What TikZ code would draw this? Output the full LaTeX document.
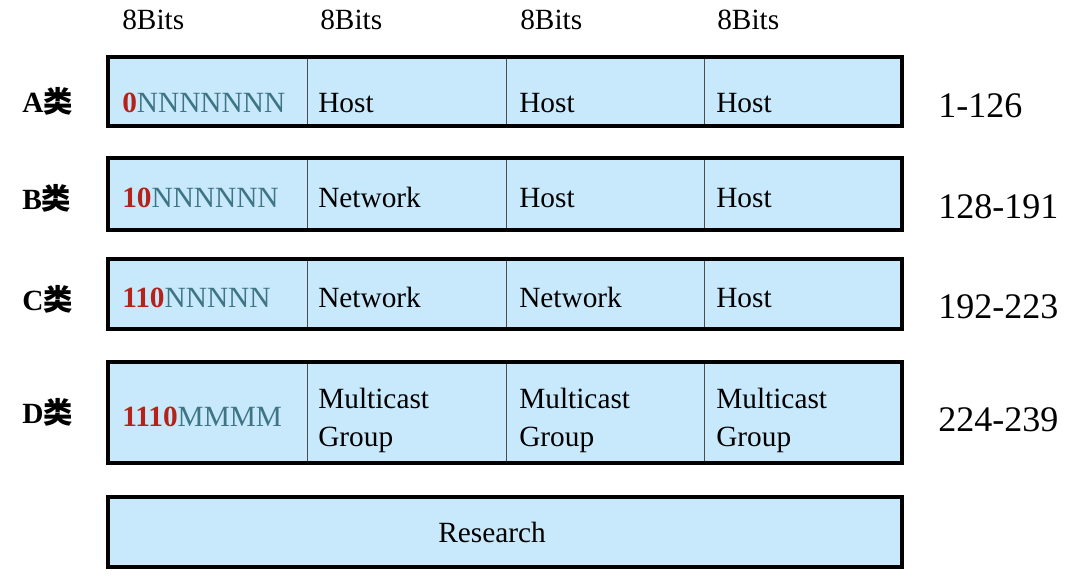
\documentclass[tikz,border=0pt]{standalone}
\usepackage{fontspec}
\setmainfont{Liberation Serif}
\newfontfamily\cjkfont{Noto Sans CJK SC}
\usetikzlibrary{fit}
\definecolor{cellfill}{HTML}{C8E8FB}
\definecolor{prefixbit}{HTML}{B5221A}
\definecolor{netbit}{HTML}{3D7585}
\newcommand\classbits[2]{\textcolor{prefixbit}{\bfseries #1}\textcolor{netbit}{#2}}

\begin{document}
\begin{tikzpicture}[
  x=0.75pt, y=-0.75pt,
  cell/.style={draw=black!70, line width=0.75pt, fill=cellfill, inner sep=0pt, outer sep=0pt},
  frame/.style={draw=black, line width=2.4pt},
  field/.style={anchor=base west, inner sep=0pt, align=left, font=\fontsize{22}{28.5}\selectfont},
  classlabel/.style={field, font=\fontsize{22}{25.5}\selectfont\bfseries},
  iprange/.style={anchor=base west, inner sep=0pt, font=\fontsize{27}{30}\selectfont}
]
\useasboundingbox (0,0) rectangle (1066,576);

\foreach \r/\top/\bot in {a/57/126, b/158/230, c/259/329, d/362/463} {
  \foreach \c/\xl/\xr in {1/108/307, 2/307/506, 3/506/704, 4/704/902}
    \node[cell, fit={(\xl,\top) (\xr,\bot)}] (\r\c) {};
  \draw[frame] (\r1.north west) rectangle (\r4.south east);
}
\node[cell, fit={(108,497) (902,567)}] (research) {};
\draw[frame] (research.north west) rectangle (research.south east);
\node[field, anchor=base] (researcht) at (492,542) {Research};

\node[field] (bits1) at (122,29) {8Bits};
\node[field] (bits2) at (320,29) {8Bits};
\node[field] (bits3) at (520,29) {8Bits};
\node[field] (bits4) at (717,29) {8Bits};

\node[classlabel] (classa) at (22,112) {A{\cjkfont 类}};
\node[classlabel] (classb) at (22,209) {B{\cjkfont 类}};
\node[classlabel] (classc) at (22,310) {C{\cjkfont 类}};
\node[classlabel] (classd) at (22,423) {D{\cjkfont 类}};

\node[field] (a1t) at (122,112) {\classbits{0}{NNNNNNN}};
\node[field] (a2t) at (318,112) {Host};
\node[field] (a3t) at (519,112) {Host};
\node[field] (a4t) at (716,112) {Host};

\node[field] (b1t) at (122,207) {\classbits{10}{NNNNNN}};
\node[field] (b2t) at (318,207) {Network};
\node[field] (b3t) at (519,207) {Host};
\node[field] (b4t) at (716,207) {Host};

\node[field] (c1t) at (122,307) {\classbits{110}{NNNNN}};
\node[field] (c2t) at (318,307) {Network};
\node[field] (c3t) at (519,307) {Network};
\node[field] (c4t) at (716,307) {Host};

\node[field] (d1t) at (122,426) {\classbits{1110}{MMMM}};
\node[field] (d2t) at (318,446) {Multicast\\Group};
\node[field] (d3t) at (519,446) {Multicast\\Group};
\node[field] (d4t) at (716,446) {Multicast\\Group};

\node[iprange] (rangea) at (938,117) {1-126};
\node[iprange] (rangeb) at (938,218) {128-191};
\node[iprange] (rangec) at (938,318) {192-223};
\node[iprange] (ranged) at (938,431) {224-239};

\end{tikzpicture}
\end{document}
